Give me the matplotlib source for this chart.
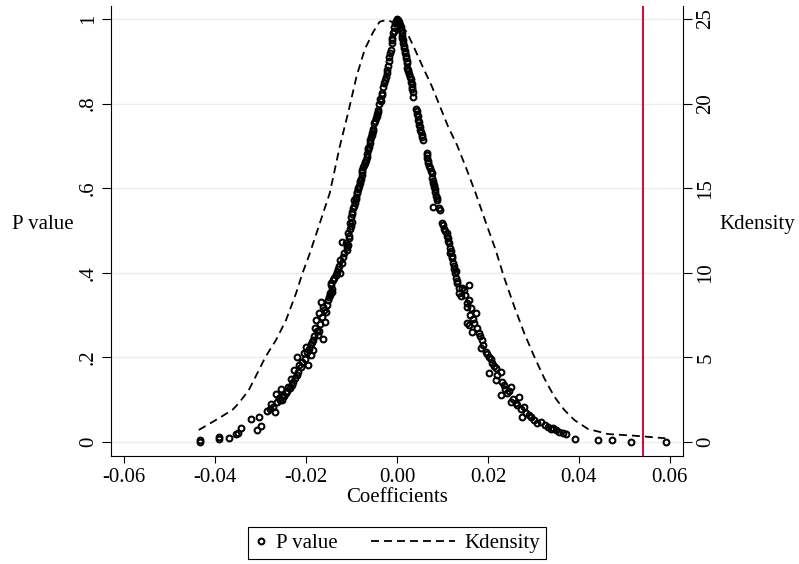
import numpy as np
import matplotlib
matplotlib.use("Agg")
import matplotlib.pyplot as plt
from matplotlib.lines import Line2D
from matplotlib.legend_handler import HandlerBase

plt.rcParams['font.family'] = ['Liberation Serif', 'DejaVu Serif']
plt.rcParams['font.size'] = 15

# permutation coefficients and their p values
coef = [
    # left tail / lower left branch
    -0.0433, -0.0433, -0.0392, -0.0392, -0.0370, -0.0355, -0.0350, -0.0344,
    -0.0322, -0.0307, -0.0300, -0.0303, -0.0285, -0.0277, -0.0268, -0.0266,
    -0.0255, -0.0252, -0.0244, -0.0260, -0.0248, -0.0240, -0.0233, -0.0230,
    -0.0219, -0.0221, -0.0215, -0.0226, -0.0210, -0.0196, -0.0200, -0.0205,
    -0.0189, -0.0185, -0.0185, -0.0190, -0.0174, -0.0163, -0.0178, -0.0180,
    -0.0172, -0.0171, -0.0159, -0.0156, -0.0167, -0.0162, -0.0152, -0.0148,
    -0.0145, -0.0142, -0.0135, -0.0140, -0.0126, -0.0130, -0.0122, -0.0119,
    -0.0125, -0.0116, -0.0145, -0.0150, -0.0134, -0.0120,
    -0.0127, -0.0133, -0.0138, -0.0143, -0.0147, -0.0155, -0.0160, -0.0165,
    -0.0169, -0.0176, -0.0182, -0.0187, -0.0193, -0.0198, -0.0203, -0.0212,
    -0.0218, -0.0224, -0.0228, -0.0236, -0.0242, -0.0250, -0.0258, -0.0264,
    -0.0272, -0.0280,
    # upper left branch
    -0.0111, -0.0108, -0.0113, -0.0106, -0.0108, -0.0103, -0.0104, -0.0099,
    -0.0101, -0.0100, -0.0096, -0.0093, -0.0095, -0.0090, -0.0089, -0.0086,
    -0.0084, -0.0082, -0.0080, -0.0078, -0.0076, -0.0074, -0.0071, -0.0069,
    -0.0067, -0.0064, -0.0062, -0.0060, -0.0058, -0.0056, -0.0053, -0.0050,
    -0.0047, -0.0044, -0.0041, -0.0039, -0.0038, -0.0034, -0.0030, -0.0027,
    -0.0023, -0.0020, -0.0017, -0.0014, -0.0012, -0.0010, -0.0008, -0.0006,
    -0.0004, -0.0002, 0.0000, 0.0003,
    -0.0109, -0.0105, -0.0102, -0.0098, -0.0094, -0.0091, -0.0088, -0.0085,
    -0.0081, -0.0077, -0.0073, -0.0070, -0.0066, -0.0063, -0.0059, -0.0055,
    -0.0052, -0.0048, -0.0045, -0.0042, -0.0036, -0.0032, -0.0028, -0.0025,
    -0.0021, -0.0018, -0.0015, -0.0011, -0.0007, -0.0003,
    # upper right branch
    0.0005, 0.0007, 0.0009, 0.0010, 0.0012, 0.0014, 0.0016, 0.0018,
    0.0020, 0.0021, 0.0023, 0.0025, 0.0029, 0.0031, 0.0033, 0.0035,
    0.0036, 0.0042, 0.0045, 0.0047, 0.0049, 0.0051, 0.0054,
    0.0057, 0.0066, 0.0067, 0.0069, 0.0073, 0.0077,
    0.0078, 0.0080, 0.0082, 0.0084, 0.0086, 0.0088, 0.0080, 0.0095,
    0.0101, 0.0104, 0.0110, 0.0112, 0.0114, 0.0116, 0.0117, 0.0120,
    0.0123, 0.0126, 0.0128, 0.0130, 0.0132, 0.0136, 0.0136, 0.0147,
    0.0004, 0.0008, 0.0011, 0.0013, 0.0015, 0.0017, 0.0019, 0.0022,
    0.0024, 0.0027, 0.0030, 0.0032, 0.0034, 0.0043,
    0.0046, 0.0048, 0.0050, 0.0053, 0.0056, 0.0065, 0.0068,
    0.0071, 0.0075, 0.0079, 0.0081, 0.0083, 0.0087, 0.0092, 0.0098,
    0.0106, 0.0109, 0.0113, 0.0118, 0.0121, 0.0125, 0.0129, 0.0133,
    # lower right branch / right tail
    0.0140, 0.0158, 0.0158, 0.0154, 0.0162, 0.0173, 0.0154, 0.0169,
    0.0158, 0.0165, 0.0180, 0.0188, 0.0184, 0.0195, 0.0202, 0.0210,
    0.0217, 0.0202, 0.0228, 0.0217, 0.0235, 0.0250, 0.0228, 0.0243,
    0.0269, 0.0250, 0.0265, 0.0280, 0.0276, 0.0291, 0.0302, 0.0317,
    0.0332, 0.0343, 0.0357, 0.0372, 0.0391, 0.0442, 0.0472, 0.0515,
    0.0591,
    0.0143, 0.0150, 0.0155, 0.0161, 0.0167, 0.0176, 0.0182, 0.0190,
    0.0198, 0.0206, 0.0213, 0.0220, 0.0231, 0.0238, 0.0246, 0.0255,
    0.0262, 0.0272, 0.0284, 0.0295, 0.0308, 0.0325, 0.0338, 0.0350,
    0.0365,
]
pval = [
    0.005, 0.001, 0.0125, 0.006, 0.010, 0.018, 0.022, 0.034,
    0.054, 0.028, 0.039, 0.060, 0.074, 0.090, 0.070, 0.113,
    0.125, 0.099, 0.117, 0.104, 0.108, 0.130, 0.150, 0.135,
    0.158, 0.202, 0.182, 0.170, 0.190, 0.182, 0.225, 0.210,
    0.206, 0.217, 0.241, 0.232, 0.253, 0.243, 0.288, 0.270,
    0.262, 0.304, 0.284, 0.308, 0.332, 0.320, 0.336, 0.352,
    0.371, 0.355, 0.395, 0.383, 0.399, 0.410, 0.422, 0.438,
    0.430, 0.446, 0.375, 0.343, 0.395, 0.473,
    0.415, 0.402, 0.388, 0.362, 0.348, 0.325, 0.312, 0.296,
    0.278, 0.262, 0.250, 0.236, 0.220, 0.212, 0.196, 0.178,
    0.165, 0.152, 0.142, 0.128, 0.120, 0.110, 0.100, 0.094,
    0.082, 0.078,
    0.454, 0.465, 0.470, 0.482, 0.493, 0.503, 0.517, 0.521,
    0.531, 0.544, 0.552, 0.564, 0.571, 0.580, 0.588, 0.597,
    0.605, 0.612, 0.622, 0.631, 0.643, 0.650, 0.659, 0.667,
    0.674, 0.690, 0.698, 0.708, 0.720, 0.730, 0.741, 0.753,
    0.765, 0.776, 0.785, 0.798, 0.812, 0.826, 0.840, 0.855,
    0.872, 0.890, 0.911, 0.927, 0.943, 0.955, 0.966, 0.980,
    0.990, 0.996, 1.000, 0.998,
    0.460, 0.488, 0.510, 0.538, 0.558, 0.575, 0.592, 0.600,
    0.618, 0.638, 0.655, 0.662, 0.680, 0.694, 0.714, 0.725,
    0.735, 0.758, 0.770, 0.780, 0.805, 0.820, 0.848, 0.862,
    0.880, 0.900, 0.920, 0.950, 0.972, 0.994,
    0.994, 0.985, 0.975, 0.966, 0.955, 0.943, 0.931, 0.919,
    0.907, 0.895, 0.885, 0.876, 0.864, 0.852, 0.840, 0.828,
    0.816, 0.787, 0.775, 0.761, 0.750, 0.738, 0.726,
    0.714, 0.678, 0.672, 0.659, 0.647, 0.635,
    0.624, 0.612, 0.602, 0.592, 0.582, 0.572, 0.556, 0.548,
    0.513, 0.503, 0.493, 0.482, 0.470, 0.458, 0.446, 0.434,
    0.422, 0.410, 0.399, 0.387, 0.375, 0.363, 0.352, 0.359,
    0.990, 0.980, 0.960, 0.950, 0.937, 0.925, 0.913, 0.900,
    0.880, 0.870, 0.858, 0.846, 0.834, 0.783,
    0.770, 0.756, 0.744, 0.732, 0.720, 0.684, 0.665,
    0.652, 0.640, 0.618, 0.607, 0.597, 0.577, 0.552, 0.518,
    0.498, 0.487, 0.476, 0.452, 0.440, 0.416, 0.404, 0.380,
    0.345, 0.371, 0.336, 0.320, 0.316, 0.304, 0.281, 0.281,
    0.277, 0.261, 0.257, 0.241, 0.222, 0.213, 0.202, 0.186,
    0.174, 0.162, 0.166, 0.147, 0.135, 0.131, 0.111, 0.115,
    0.107, 0.095, 0.087, 0.083, 0.060, 0.064, 0.052, 0.048,
    0.036, 0.032, 0.024, 0.019, 0.006, 0.005, 0.005, 0.001,
    0.000,
    0.365, 0.348, 0.328, 0.300, 0.290, 0.270, 0.250, 0.230,
    0.208, 0.196, 0.180, 0.158, 0.142, 0.125, 0.120, 0.102,
    0.092, 0.078, 0.068, 0.058, 0.044, 0.040, 0.030, 0.028,
    0.022,
]

# kernel density of the coefficients
kd_x = [-0.0436, -0.0392, -0.0362, -0.0348, -0.0326, -0.0311, -0.0289, -0.0266,
        -0.0244, -0.0222, -0.0208, -0.0193, -0.0148, -0.0126, -0.0108, -0.0089,
        -0.0071, -0.0052, -0.0038, -0.0023, -0.0012, 0.0007, 0.0021, 0.0040,
        0.0058, 0.0077, 0.0095, 0.0113, 0.0132, 0.0151, 0.0173, 0.0195,
        0.0217, 0.0235, 0.0258, 0.0280, 0.0302, 0.0324, 0.0346, 0.0368,
        0.0390, 0.0420, 0.0464, 0.0523, 0.0590]
kd_y = [0.71, 1.40, 1.90, 2.29, 3.07, 3.86, 5.04, 6.03,
        7.21, 8.79, 9.97, 11.05, 14.70, 17.45, 19.40, 21.60,
        23.20, 24.25, 24.84, 24.94, 24.84, 24.65, 24.25, 23.17,
        22.09, 21.00, 19.80, 18.60, 17.55, 16.27, 14.70, 13.00,
        11.35, 9.77, 8.00, 6.42, 5.04, 3.76, 2.68, 1.89,
        1.30, 0.77, 0.47, 0.37, 0.22]

actual_coef = 0.0541

x_ticks = [-0.06, -0.04, -0.02, 0.00, 0.02, 0.04, 0.06]
x_labels = ['-0.06', '-0.04', '-0.02', '0.00', '0.02', '0.04', '0.06']
p_ticks = [0, 0.2, 0.4, 0.6, 0.8, 1.0]
p_labels = ['0', '.2', '.4', '.6', '.8', '1']
kd_ticks = [0, 5, 10, 15, 20, 25]

fig = plt.figure(figsize=(7.99, 5.64), dpi=100)
ax = fig.add_axes([111 / 799, 108 / 564, 572 / 799, 450 / 564])
ax2 = ax.twinx()

pv_plot, = ax.plot(coef, pval, linestyle='none', marker='o', ms=4.2,
                   mfc='none', mec='black', mew=1.45, label='P value', zorder=3)
kd_plot, = ax2.plot(kd_x, kd_y, color='black', lw=1.3, dashes=(4.4, 2.8),
                    label='Kdensity')
ax.axvline(actual_coef, color='#c8143c', lw=1.5, zorder=4)

ax.set_xlim(-0.0629, 0.0629)
ax.set_ylim(-0.0331, 1.0307)
ax2.set_ylim(-0.0331 * 25, 1.0307 * 25)

ax.set_xticks(x_ticks)
ax.set_xticklabels(x_labels)
ax.set_yticks(p_ticks)
ax.set_yticklabels(p_labels, rotation=90, va='center')
ax2.set_yticks(kd_ticks)
ax2.set_yticklabels([str(t) for t in kd_ticks], rotation=90, va='center')

ax.grid(axis='y', color='#e6eef1', lw=1.0)
ax.set_axisbelow(True)

for a in (ax, ax2):
    a.spines['top'].set_visible(False)
ax.spines['right'].set_visible(False)
ax2.spines['left'].set_visible(False)
ax2.spines['bottom'].set_visible(False)

ax.tick_params(axis='x', length=5, width=0.8, pad=4)
ax.tick_params(axis='y', length=6.5, width=0.8, pad=3)
ax2.tick_params(axis='y', length=6.5, width=0.8, pad=3)

ax.set_xlabel('Coefficients', labelpad=0)
ax.set_ylabel('P value', rotation=0, ha='center', va='center')
ax.yaxis.set_label_coords(-0.12, 0.515)
ax2.set_ylabel('Kdensity', rotation=0, ha='center', va='center')
ax2.yaxis.set_label_coords(1.13, 0.515)


class LongDash(HandlerBase):
    # dashed sample that reaches further left than the handle box
    def create_artists(self, legend, orig_handle, xdescent, ydescent,
                       width, height, fontsize, trans):
        y = height / 2 - ydescent
        x0 = -xdescent - 3.4 * fontsize
        line = Line2D([x0, -xdescent + width], [y, y], color='black',
                      lw=1.3, dashes=(4.4, 2.8), transform=trans)
        return [line]


leg = fig.legend([pv_plot, kd_plot], ['P value', 'Kdensity'], ncol=2,
                 loc='center', bbox_to_anchor=(397 / 799, 21 / 564),
                 handler_map={kd_plot: LongDash()},
                 handlelength=0.6, handletextpad=0.45, columnspacing=5.0,
                 borderpad=0.3, frameon=True, fancybox=False,
                 edgecolor='black', framealpha=1)
leg.get_frame().set_linewidth(0.8)

fig.savefig('out.png', dpi=100)
